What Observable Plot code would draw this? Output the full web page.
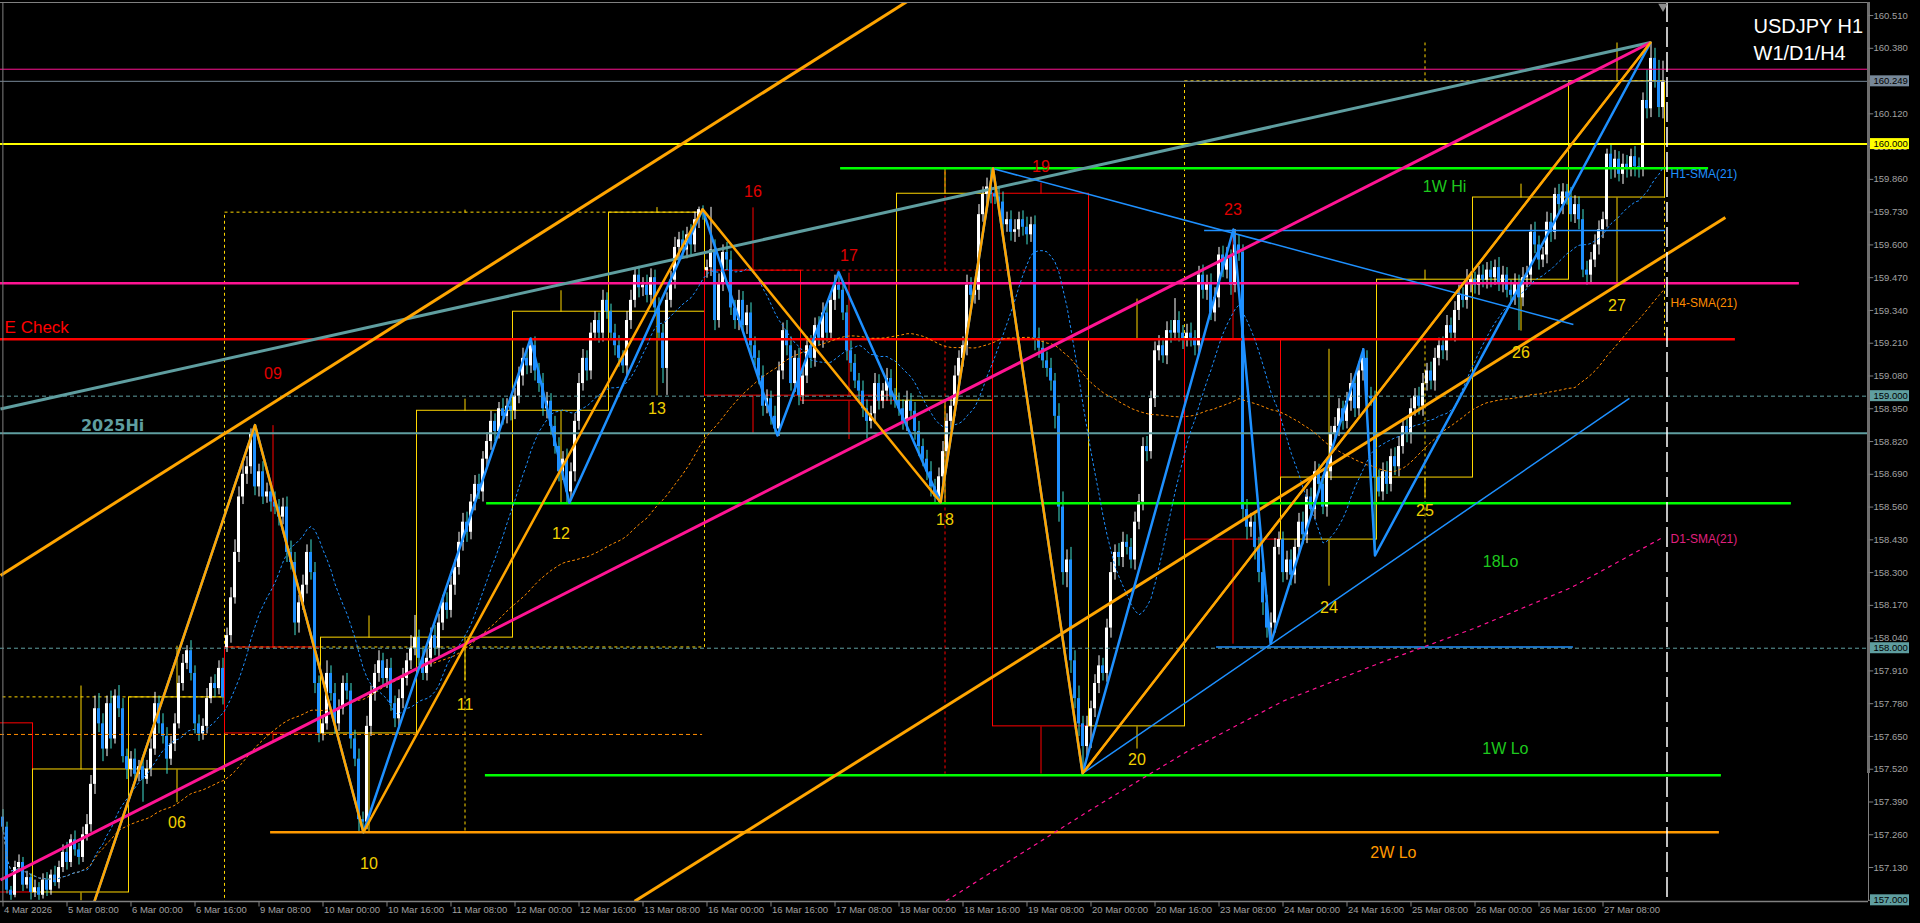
<!DOCTYPE html>
<html><head><meta charset="utf-8">
<script src="https://cdn.jsdelivr.net/npm/d3@7"></script>
<script src="https://cdn.jsdelivr.net/npm/@observablehq/plot@0.6"></script>
<style>html,body{margin:0;padding:0;background:#000;overflow:hidden}svg{display:block}</style>
</head><body><div id="chart"></div>
<script>
// ---------- DATA (prices in thousandths above 157.000) ----------
const BASE = 157;
const firstOpen = 330;
// hourly closes, one line per trading day
const closes = [
 290,40,20,130,150,60,90,31,
 50,20,80,40,100,70,130,190,150,240,200,170,260,300,460,760,700,600,780,640,810,760,570,519,
 560,500,530,480,520,600,780,700,650,560,620,700,860,940,990,900,700,660,690,800,860,840,920,805,
 1050,1200,1380,1600,1690,1720,1850,1640,1700,1600,1620,1580,1560,1520,1560,1380,1340,1100,1180,1250,1380,1300,860,662,
 700,900,820,700,760,860,830,640,560,320,310,690,820,900,950,880,920,780,720,800,880,950,1000,1042,
 960,900,960,1050,1000,1100,1180,1150,1250,1320,1420,1500,1460,1580,1650,1620,1750,1820,1900,1860,1950,1920,1960,1942,
 2000,2080,2150,2120,2200,2100,2050,1950,1980,1880,1800,1700,1750,1620,1700,1900,2050,2150,2100,2250,2300,2250,2380,2335,
 2250,2200,2150,2120,2300,2380,2480,2430,2440,2400,2470,2350,2250,2110,2380,2460,2590,2620,2580,2640,2600,2700,2740,2728,
 2510,2580,2300,2450,2570,2540,2350,2300,2380,2280,2330,2200,2150,2080,1960,1990,1920,1870,2100,2260,2200,2050,2150,2002,
 2080,2200,2150,2280,2230,2330,2250,2380,2440,2420,2330,2180,2130,2060,2020,1950,1900,1930,2050,1980,2020,2070,2000,1982,
 1950,1900,1980,1940,1860,1800,1750,1700,1640,1600,1680,1780,1900,1960,2080,2150,2200,2440,2400,2420,2720,2800,2830,2803,
 2790,2770,2680,2700,2650,2660,2700,2670,2640,2680,2230,2190,2140,2110,2060,1920,1560,1300,1350,950,800,700,610,690,
 760,860,930,900,1080,1300,1380,1360,1420,1400,1350,1500,1580,1800,1780,1990,2180,2200,2160,2260,2250,2300,2250,2225,
 2250,2230,2200,2480,2420,2450,2330,2390,2560,2500,2550,2440,2600,2570,1550,1480,1500,1400,1300,1180,1080,1100,1400,1431,
 1300,1350,1290,1400,1500,1450,1600,1550,1700,1650,1560,1700,1850,1880,1950,1900,1980,2050,1950,2100,2150,2000,1990,1677,
 1620,1700,1650,1760,1720,1800,1880,1850,1950,2000,1960,2050,2100,2060,2150,2200,2180,2280,2250,2340,2400,2380,2450,2462,
 2440,2480,2460,2500,2470,2510,2450,2480,2420,2400,2450,2390,2470,2480,2650,2600,2540,2560,2690,2650,2800,2760,2810,2788,
 2720,2760,2700,2500,2480,2540,2600,2660,2700,2960,2900,2940,2880,2920,2900,2950,2910,2900,3173,3140,3340,3252,3145,3249
];
const upperWick = [
 30,20,15,25,30,20,25,15,
 30,20,25,30,20,35,25,30,40,20,35,25,30,40,35,50,60,40,30,50,25,42,40,30,
 30,40,25,30,35,40,45,30,40,35,30,40,30,35,20,40,30,35,30,40,25,35,30,40,
 30,40,50,40,50,40,20,35,30,40,35,30,40,30,35,40,45,40,30,40,30,50,40,30,
 30,50,30,40,35,30,40,30,35,40,30,40,30,35,40,30,35,40,30,35,40,30,50,88,
 30,40,35,30,40,35,30,40,35,30,40,35,40,30,35,40,30,35,40,30,25,40,30,25,
 30,35,40,30,29,35,30,40,35,30,40,35,30,40,35,30,40,35,30,40,35,30,40,30,
 30,35,40,30,35,40,30,35,30,40,35,30,40,35,30,35,40,30,35,30,40,30,10,15,
 30,169,40,35,30,40,35,30,40,35,30,40,35,30,40,35,30,40,35,30,40,35,30,40,
 30,35,40,30,35,40,30,35,40,50,35,30,40,35,30,40,35,30,40,35,30,40,35,30,
 30,35,40,30,35,40,30,35,40,30,35,40,30,35,40,30,35,40,30,35,40,30,35,73,
 44,35,40,30,35,40,30,35,40,30,35,40,30,35,40,30,50,60,40,50,40,50,30,40,
 30,35,40,30,35,40,30,35,40,30,35,40,30,35,40,30,35,40,30,35,40,87,35,30,
 35,40,30,35,40,30,35,40,30,35,40,30,61,40,30,40,35,30,40,35,30,40,35,30,
 30,35,40,30,35,40,30,35,40,30,35,40,30,35,40,30,35,40,30,35,38,30,35,30,
 30,35,40,30,35,40,30,35,40,30,35,40,30,35,40,30,35,40,30,35,40,30,52,30,
 30,35,40,30,35,30,40,35,30,40,35,30,40,35,30,40,35,30,40,35,25,40,33,30,
 40,35,30,40,35,30,40,35,30,20,40,35,30,40,35,30,40,35,30,120,63,40,80,80
];
const lowerWick = [
 20,15,20,10,20,25,15,30,
 20,20,15,25,20,15,25,20,30,20,25,30,20,25,30,40,35,50,30,40,20,35,25,40,
 30,25,30,91,20,30,25,40,30,60,25,30,20,30,25,30,40,30,25,30,20,35,25,30,
 20,30,25,40,30,40,30,35,40,30,25,40,30,35,30,40,30,50,40,30,35,30,40,37,
 30,25,30,40,30,25,35,40,30,50,41,30,40,30,35,30,40,30,35,30,40,30,35,30,
 30,28,30,35,30,40,30,35,30,40,30,35,40,30,35,30,40,30,35,40,30,35,30,40,
 35,30,40,35,30,40,35,30,40,35,30,40,35,43,30,40,35,30,40,35,30,40,35,30,
 30,40,35,30,40,35,30,40,35,30,40,35,30,60,107,30,35,40,30,35,40,30,35,30,
 30,35,40,30,35,40,30,35,40,30,35,40,30,35,40,30,35,19,30,35,40,30,35,40,
 35,30,40,35,30,40,35,30,40,35,30,40,35,30,40,35,70,30,40,35,30,40,35,30,
 30,35,40,30,35,40,30,35,40,30,25,40,30,35,40,30,35,40,30,35,40,30,35,40,
 30,35,40,30,35,40,30,35,40,30,50,40,30,35,40,50,60,50,60,50,40,50,107,40,
 88,35,40,30,35,40,30,35,40,30,35,40,30,35,40,30,35,40,30,35,40,30,35,40,
 30,35,40,30,35,40,30,35,40,30,35,40,30,35,40,50,40,50,40,50,40,62,40,30,
 40,30,42,35,30,40,35,30,40,35,30,40,35,30,40,35,30,40,35,30,40,35,30,309,
 20,35,40,30,35,40,30,35,40,30,35,40,30,35,40,30,35,40,30,35,40,30,35,40,
 35,40,30,35,40,30,35,40,30,35,40,130,35,40,30,35,40,30,35,40,30,35,40,30,
 30,35,40,30,40,35,30,40,35,30,40,35,30,40,35,30,40,35,30,40,35,30,40,45
];
// Monday opens that gap away from the previous close
const gapOpenIdx = [56, 176];
const gapOpenVal = [1003, 2498];

// daily candles (D1 boxes)
const dayNames = ["04","05","06","09","10","11","12","13","16","17","18","19","20","23","24","25","26","27"];
const dayStart = [-16,8,32,56,80,104,128,152,176,200,224,248,272,296,320,344,368,392];
const dayOpen  = [702,31,519,1003,662,1042,1942,2335,2498,2002,1982,2803,690,2225,1431,1677,2462,2788];
const dayHigh  = [760,852,1010,1885,1130,1990,2420,2750,2749,2490,2903,2847,2387,2661,2188,2502,2843,3403];
const dayLow   = [-20,0,389,625,269,872,1577,2003,1851,1830,1575,503,602,1018,1248,1600,2260,2440];
const dayClose = [31,519,805,662,1042,1942,2335,2728,2002,1982,2803,690,2225,1431,1677,2462,2788,3249];
const dayLabelPrice = [null,null,157.309,159.090,157.146,157.777,158.455,158.951,159.812,159.558,158.511,159.911,157.559,159.740,158.162,158.543,159.170,159.357];

// weekly candles (dotted boxes)
const weekStart = [-64,56,176,296];
const weekOpen  = [-600,1003,2498,2225];
const weekHigh  = [1010,2750,2903,3403];
const weekLow   = [-700,269,503,1018];
const weekClose = [805,2728,2225,3249];

// horizontal levels: price, from bar, to bar
const levelNames = ["160.000","pivot","bid","1W Hi","blue H","pink H","E Check","159.000","2025Hi","18Lo","blue L","158.000","prev wk","1W Lo","2W Lo"];
const levelPrice = [160.000,160.297,160.249,159.904,159.657,159.448,159.226,159.000,158.853,158.575,158.005,158.000,157.658,157.496,157.270];
const levelFrom  = [-0.625,-0.625,-0.625,209.4,300.4,-0.625,-0.625,-0.625,-0.625,120.9,303.4,-0.625,-0.625,120.6,66.9];
const levelTo    = [466.375,466.375,466.375,426.4,415.6,449.1,433.1,466.375,466.375,447.1,392.6,466.375,174.9,429.6,429.1];

// trend lines: bar/price endpoints
const trendNames = ["teal","orangeUp","orangeLow","pink","blueDown","blueUp","orange20"];
const trendI1 = [-0.625,-0.625,157.9,-0.625,247.4,269.9,269.9];
const trendP1 = [158.949,158.289,156.996,157.081,159.903,157.504,157.504];
const trendI2 = [411.9,240,430.6,411.9,392.6,406.6,411.9];
const trendP2 = [160.403,160.706,159.709,160.403,159.284,158.991,160.403];

// zigzags
const orangeZZi = [10,63,90.1,174.9,234.4,247.5,269.9,411.9];
const orangeZZp = [156.39,158.885,157.270,159.741,158.579,159.903,157.504,160.403];
const blueZZi = [10,63,90.1,131.9,141.6,174.9,193.6,208.9,234.4,247.5,269.9,307.6,316.9,340.1,343,411.9];
const blueZZp = [156.39,158.885,157.270,159.229,158.577,159.741,158.844,159.492,158.579,159.903,157.504,159.661,158.018,159.186,158.368,160.403];

// D1 SMA(21)
const d1SmaI = [224,248,272,296,320,344,368,392,415];
const d1SmaP = [156.88,157.12,157.36,157.59,157.79,157.94,158.08,158.24,158.44];

// axis ticks
const priceTicks = [157.000,157.130,157.260,157.390,157.520,157.650,157.780,157.910,158.040,158.170,158.300,158.430,158.560,158.690,158.820,158.950,159.080,159.210,159.340,159.470,159.600,159.730,159.860,159.990,160.120,160.250,160.380,160.510];
const markPrices = [160.249,160.000,159.000,158.000,157.000];
const timeTickIdx = [0,16,32,48,64,80,96,112,128,144,160,176,192,208,224,240,256,272,288,304,320,336,352,368,384,400];
const timeTickText = ["4 Mar 2026","5 Mar 08:00","6 Mar 00:00","6 Mar 16:00","9 Mar 08:00","10 Mar 00:00","10 Mar 16:00","11 Mar 08:00","12 Mar 00:00","12 Mar 16:00","13 Mar 08:00","16 Mar 00:00","16 Mar 16:00","17 Mar 08:00","18 Mar 00:00","18 Mar 16:00","19 Mar 08:00","20 Mar 00:00","20 Mar 16:00","23 Mar 08:00","24 Mar 00:00","24 Mar 16:00","25 Mar 08:00","26 Mar 00:00","26 Mar 16:00","27 Mar 08:00"];

// text annotations: text, bar, price
const noteText = ["1W Hi","18Lo","1W Lo","2W Lo"];
const noteI = [360.4,374.4,375.6,347.6];
const noteP = [159.832,158.344,157.602,157.190];
const smaLabelText = ["H1-SMA(21)","H4-SMA(21)","D1-SMA(21)"];
const smaLabelP = [159.879,159.368,158.432];

// ---------- BUILD ----------
const px = v => BASE + v / 1000;
const bars = closes.map((c, i) => {
  const g = gapOpenIdx.indexOf(i);
  const o = i === 0 ? firstOpen : (g >= 0 ? gapOpenVal[g] : closes[i - 1]);
  return {i, o: px(o), c: px(c), h: px(Math.max(o, c) + upperWick[i]), l: px(Math.min(o, c) - lowerWick[i]), up: c >= o};
});
function sma(k) {
  return bars.map((d, i) => { const s = Math.max(0, i - k + 1); let t = 0; for (let j = s; j <= i; j++) t += bars[j].c; return t / (i - s + 1); });
}
const s1 = sma(21), s4 = sma(84);
bars.forEach((d, i) => { d.sma1 = s1[i]; d.sma4 = s4[i]; });

const days = dayNames.map((n, k) => ({name: n, x1: dayStart[k] - 0.5, x2: dayStart[k] + 23.5, mid: dayStart[k] + 11.5,
  o: px(dayOpen[k]), h: px(dayHigh[k]), l: px(dayLow[k]), c: px(dayClose[k]), lab: dayLabelPrice[k]}));
const weeks = weekStart.map((s, k) => ({x1: s - 0.5, x2: s + 119.5, mid: s + 59.5,
  o: px(weekOpen[k]), h: px(weekHigh[k]), l: px(weekLow[k]), c: px(weekClose[k])}));
const levels = levelNames.map((n, k) => ({name: n, p: levelPrice[k], from: levelFrom[k], to: levelTo[k]}));
const trends = trendNames.map((n, k) => ({name: n, i1: trendI1[k], p1: trendP1[k], i2: trendI2[k], p2: trendP2[k]}));
const orangeZZ = orangeZZi.map((i, k) => ({i, p: orangeZZp[k]}));
const blueZZ = blueZZi.map((i, k) => ({i, p: blueZZp[k]}));
const d1Sma = d1SmaI.map((i, k) => ({i, p: d1SmaP[k]}));
const timeTicks = timeTickIdx.map((i, k) => ({i, t: timeTickText[k]}));

const X0 = -0.625, X1 = 466.375, Y0 = 156.99524, Y1 = 160.5617;
const PXY = 1 / 252.07; // price per pixel (for small axis decorations)

const levelStyle = {
  "160.000": {stroke: "#ffff00", w: 2},
  "pivot": {stroke: "#ff1493", w: 1},
  "bid": {stroke: "#778899", w: 1},
  "1W Hi": {stroke: "#00ff00", w: 2.5},
  "blue H": {stroke: "#1e90ff", w: 1.5},
  "pink H": {stroke: "#ff1493", w: 2.5},
  "E Check": {stroke: "#ff0000", w: 2.5},
  "159.000": {stroke: "#5f9ea0", w: 1, dash: "4,3"},
  "2025Hi": {stroke: "#5f9ea0", w: 2},
  "18Lo": {stroke: "#00ff00", w: 2.5},
  "blue L": {stroke: "#1e90ff", w: 1.5},
  "158.000": {stroke: "#5f9ea0", w: 1, dash: "4,3"},
  "prev wk": {stroke: "#ff8c00", w: 1, dash: "4,3"},
  "1W Lo": {stroke: "#00ff00", w: 2.5},
  "2W Lo": {stroke: "#ff9900", w: 2.5}
};
const trendStyle = {
  teal: {stroke: "#5f9ea0", w: 3}, orangeUp: {stroke: "#ffa500", w: 3}, orangeLow: {stroke: "#ffa500", w: 3},
  pink: {stroke: "#ff1493", w: 3}, blueDown: {stroke: "#1e90ff", w: 1.5}, blueUp: {stroke: "#1e90ff", w: 1.5},
  orange20: {stroke: "#ffa500", w: 2}
};
const markColors = ["#778899", "#ffff00", "#5f9ea0", "#5f9ea0", "#5f9ea0"];
const boxCol = d => d.c >= d.o ? "#ffd700" : "#ff0000";
const font = "'Liberation Sans', Arial, sans-serif";

const chart = Plot.plot({
  width: 1920, height: 923,
  marginTop: 2, marginRight: 52, marginBottom: 22, marginLeft: 0,
  x: {domain: [X0, X1], axis: null},
  y: {domain: [Y0, Y1], axis: null},
  style: {background: "#000", color: "#fff", fontFamily: font, overflow: "visible"},
  marks: [
    // weekly boxes
    Plot.rect(weeks, {x1: "x1", x2: "x2", y1: "o", y2: "c", fill: "none", stroke: boxCol, strokeWidth: 1, strokeDasharray: "3,3", clip: true}),
    Plot.link(weeks, {x1: "mid", x2: "mid", y1: d => Math.max(d.o, d.c), y2: "h", stroke: boxCol, strokeDasharray: "3,3", clip: true}),
    Plot.link(weeks, {x1: "mid", x2: "mid", y1: d => Math.min(d.o, d.c), y2: "l", stroke: boxCol, strokeDasharray: "3,3", clip: true}),
    // daily boxes
    Plot.rect(days, {x1: "x1", x2: "x2", y1: "o", y2: "c", fill: "none", stroke: boxCol, strokeWidth: 1, clip: true}),
    Plot.link(days, {x1: "mid", x2: "mid", y1: d => Math.max(d.o, d.c), y2: "h", stroke: boxCol, clip: true}),
    Plot.link(days, {x1: "mid", x2: "mid", y1: d => Math.min(d.o, d.c), y2: "l", stroke: boxCol, clip: true}),
    // candles
    Plot.ruleX(bars, {x: "i", y1: "l", y2: "h", stroke: d => d.up ? "#ffffff" : "#40e0d0", strokeWidth: 1}),
    Plot.rect(bars, {x1: d => d.i - 0.375, x2: d => d.i + 0.375, y1: "o", y2: "c", fill: d => d.up ? "#ffffff" : "#1e90ff"}),
    // horizontal levels
    ...levels.map(d => Plot.ruleY([d], {y: "p", x1: "from", x2: "to", stroke: levelStyle[d.name].stroke,
      strokeWidth: levelStyle[d.name].w, strokeDasharray: levelStyle[d.name].dash})),
    // SMAs
    Plot.line(bars, {x: "i", y: "sma4", stroke: "#ff8c00", strokeWidth: 1, strokeDasharray: "2,3"}),
    Plot.line(bars, {x: "i", y: "sma1", stroke: "#1e90ff", strokeWidth: 1, strokeDasharray: "2,3"}),
    Plot.line(d1Sma, {x: "i", y: "p", stroke: "#ff1493", strokeWidth: 1.2, strokeDasharray: "3,5", clip: true}),
    // trend lines
    ...trends.map(d => Plot.link([d], {x1: "i1", y1: "p1", x2: "i2", y2: "p2", stroke: trendStyle[d.name].stroke,
      strokeWidth: trendStyle[d.name].w, clip: true})),
    // zigzags
    Plot.line(blueZZ, {x: "i", y: "p", stroke: "#1e90ff", strokeWidth: 2.5, clip: true}),
    Plot.line(orangeZZ, {x: "i", y: "p", stroke: "#ffa500", strokeWidth: 2.5, clip: true}),
    // current bar marker line
    Plot.ruleX([416], {stroke: "#ffffff", strokeWidth: 1.5, strokeDasharray: "20,5"}),
    Plot.dot([415], {x: d => d, frameAnchor: "top", dy: 4, symbol: "triangle", r: 3.5, fill: "#8c8c8c", rotate: 180}),
    // day labels
    Plot.text(days.filter(d => d.lab != null), {x: "mid", y: "lab", text: "name", fontSize: 16, fontFamily: font,
      fill: d => d.c >= d.o ? "#f0d000" : "#e00000"}),
    // level annotations
    Plot.text(noteText.map((t, k) => ({t, i: noteI[k], p: noteP[k]})), {x: "i", y: "p", text: "t", fontSize: 16, fontFamily: font,
      fill: d => d.t === "2W Lo" ? "#ff9900" : "#1ec81e"}),
    Plot.text(smaLabelText.map((t, k) => ({t, p: smaLabelP[k]})), {x: () => 416.9, y: "p", text: "t", fontSize: 12, fontFamily: font,
      textAnchor: "start", fill: d => d.t.startsWith("H1") ? "#1e90ff" : d.t.startsWith("H4") ? "#ff8c00" : "#e0207f"}),
    Plot.text(["2025Hi"], {x: () => 27.4, y: () => 158.884, text: d => d, fontSize: 16, fontWeight: "bold",
      fontFamily: "'DejaVu Sans', sans-serif", fill: "#5f9ea0"}),
    Plot.text(["E Check"], {x: () => 0.4, y: () => 159.272, text: d => d, fontSize: 17, fontFamily: font, fill: "#ff0000", textAnchor: "start"}),
    // title
    Plot.text(["USDJPY H1"], {frameAnchor: "top-right", dx: -115, dy: 16, text: d => d, textAnchor: "start", fontSize: 20, fontFamily: font, fill: "#ffffff"}),
    Plot.text(["W1/D1/H4"], {frameAnchor: "top-right", dx: -115, dy: 43, text: d => d, textAnchor: "start", fontSize: 20, fontFamily: font, fill: "#ffffff"}),
    // frame
    Plot.ruleY([Y1], {stroke: "#808080", strokeWidth: 1}),
    Plot.ruleX([-0.03], {stroke: "#808080", strokeWidth: 1}),
    Plot.ruleY([Y0], {x1: () => X0, x2: () => X1, stroke: "#808080", strokeWidth: 1.5}),
    Plot.ruleX([X1], {stroke: "#808080", strokeWidth: 1}),
    Plot.ruleX([X1], {y1: () => 157.503, y2: () => Y1, stroke: "#6e6e6e", strokeWidth: 3}),
    // price axis
    Plot.link(priceTicks, {x1: () => X1, x2: () => X1 + 1.2, y1: d => d, y2: d => d, stroke: "#808080"}),
    Plot.text(priceTicks, {x: () => X1, dx: 5, y: d => d, text: d => d.toFixed(3), textAnchor: "start", fontSize: 9.5, fontFamily: font, fill: "#a0a0a0"}),
    Plot.rect(markPrices, {x1: () => X1 + 0.5, x2: () => X1 + 10.25, y1: d => d - 5.5 * PXY, y2: d => d + 5.5 * PXY,
      fill: (d, k) => markColors[k]}),
    Plot.text(markPrices, {x: () => X1, dx: 5, y: d => d, text: d => d.toFixed(3), textAnchor: "start", fontSize: 9.5, fontFamily: font, fill: "#000"}),
    // time axis
    Plot.link(timeTicks, {x1: "i", x2: "i", y1: () => Y0, y2: () => Y0 - 5 * PXY, stroke: "#808080"}),
    Plot.text(timeTicks, {x: "i", frameAnchor: "bottom", dy: 11, dx: 1, text: "t", textAnchor: "start", fontSize: 9.5, fontFamily: font, fill: "#a0a0a0"})
  ]
});
document.getElementById("chart").appendChild(chart);
</script></body></html>
